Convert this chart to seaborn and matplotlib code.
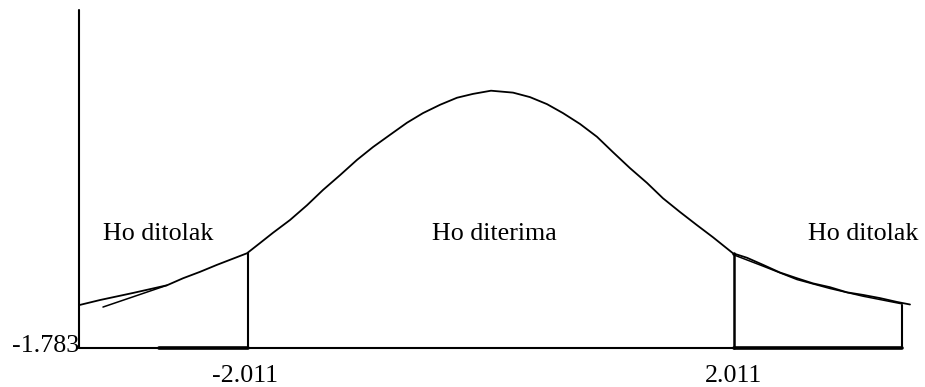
"""
 uji t - daerah penerimaan / penolakan Ho
"""
import numpy as np
import pandas as pd
import matplotlib
matplotlib.use('Agg')
import matplotlib.pyplot as plt
import seaborn as sns

# kurva: posisi t dan tinggi kurva
curve_z = [-3.405, -3.231, -2.959, -2.818, -2.678, -2.545, -2.405, -2.264,
           -2.017, -1.909, -1.802, -1.661, -1.521, -1.388, -1.248, -1.107,
           -0.975, -0.835, -0.694, -0.562, -0.421, -0.281, -0.149, 0.0,
           0.182, 0.322, 0.463, 0.595, 0.736, 0.876, 1.008, 1.149, 1.289,
           1.421, 1.562, 1.702, 1.835, 2.0, 2.116, 2.248, 2.388, 2.529,
           2.661, 2.802, 2.942, 3.074, 3.215, 3.355, 3.463]
curve_h = [0.067, 0.075, 0.086, 0.092, 0.098, 0.109, 0.119, 0.130,
           0.148, 0.164, 0.180, 0.200, 0.223, 0.247, 0.270, 0.294,
           0.314, 0.333, 0.352, 0.367, 0.380, 0.391, 0.397, 0.402,
           0.399, 0.392, 0.381, 0.367, 0.350, 0.330, 0.306, 0.281, 0.258,
           0.234, 0.2125, 0.192, 0.173, 0.148, 0.141, 0.130, 0.118, 0.109,
           0.101, 0.095, 0.087, 0.083, 0.078, 0.072, 0.068]

# goresan tambahan di ekor kiri dan kanan
left_stroke_z = [-3.207, -2.678]
left_stroke_h = [0.064, 0.098]
right_stroke_z = [2.0, 2.248, 2.529, 2.802, 3.074, 3.397]
right_stroke_h = [0.146, 0.128, 0.107, 0.093, 0.081, 0.069]

t_crit = 2.011
axis_z = -3.405
end_z = 3.397
end_h = 0.067
cut_h = 0.148
axis_top = 0.528
left_bold_start = -2.744

tick_labels = ['-2.011', '2.011']
y_label = '-1.783'
region_labels = ['Ho ditolak', 'Ho diterima', 'Ho ditolak']

sns.set_style('white')
plt.rcParams['font.family'] = ['Liberation Serif', 'DejaVu Serif']
plt.rcParams['text.color'] = 'black'

fig = plt.figure(figsize=(9.25, 3.87), dpi=100)
ax = fig.add_axes([0, 0, 1, 1])
ax.set_xlim(-4.058, 3.587)
ax.set_ylim(-0.0609, 0.5437)
ax.axis('off')

df = pd.DataFrame({'z': curve_z, 'h': curve_h})
sns.lineplot(data=df, x='z', y='h', color='black', linewidth=1.3, ax=ax,
             solid_joinstyle='round')
sns.lineplot(x=left_stroke_z, y=left_stroke_h, color='black', linewidth=1.1, ax=ax)
sns.lineplot(x=right_stroke_z, y=right_stroke_h, color='black', linewidth=1.1, ax=ax)

# sumbu
ax.plot([axis_z, axis_z], [0, axis_top], color='black', linewidth=1.5)
ax.plot([axis_z, end_z], [0, 0], color='black', linewidth=1.5)
# daerah penolakan
ax.plot([left_bold_start, -t_crit], [0, 0], color='black', linewidth=2.6)
ax.plot([t_crit, end_z], [0, 0], color='black', linewidth=2.6)
ax.plot([-t_crit, -t_crit], [0, cut_h], color='black', linewidth=1.5)
ax.plot([t_crit, t_crit], [0, cut_h], color='black', linewidth=1.8)
ax.plot([end_z, end_z], [0, end_h], color='black', linewidth=1.5)

fs = 18.7
for z, lab in zip([-2.75, 0.03, 3.08], region_labels):
    ax.text(z, 0.169, lab, ha='center', va='baseline', fontsize=fs, color='black')
ax.text(-2.033, -0.053, tick_labels[0], ha='center', va='baseline', fontsize=fs, color='black')
ax.text(2.004, -0.053, tick_labels[1], ha='center', va='baseline', fontsize=fs, color='black')
ax.text(axis_z + 0.005, -0.0063, y_label, ha='right', va='baseline', fontsize=fs, color='black')

fig.savefig('out.png', dpi=100)
